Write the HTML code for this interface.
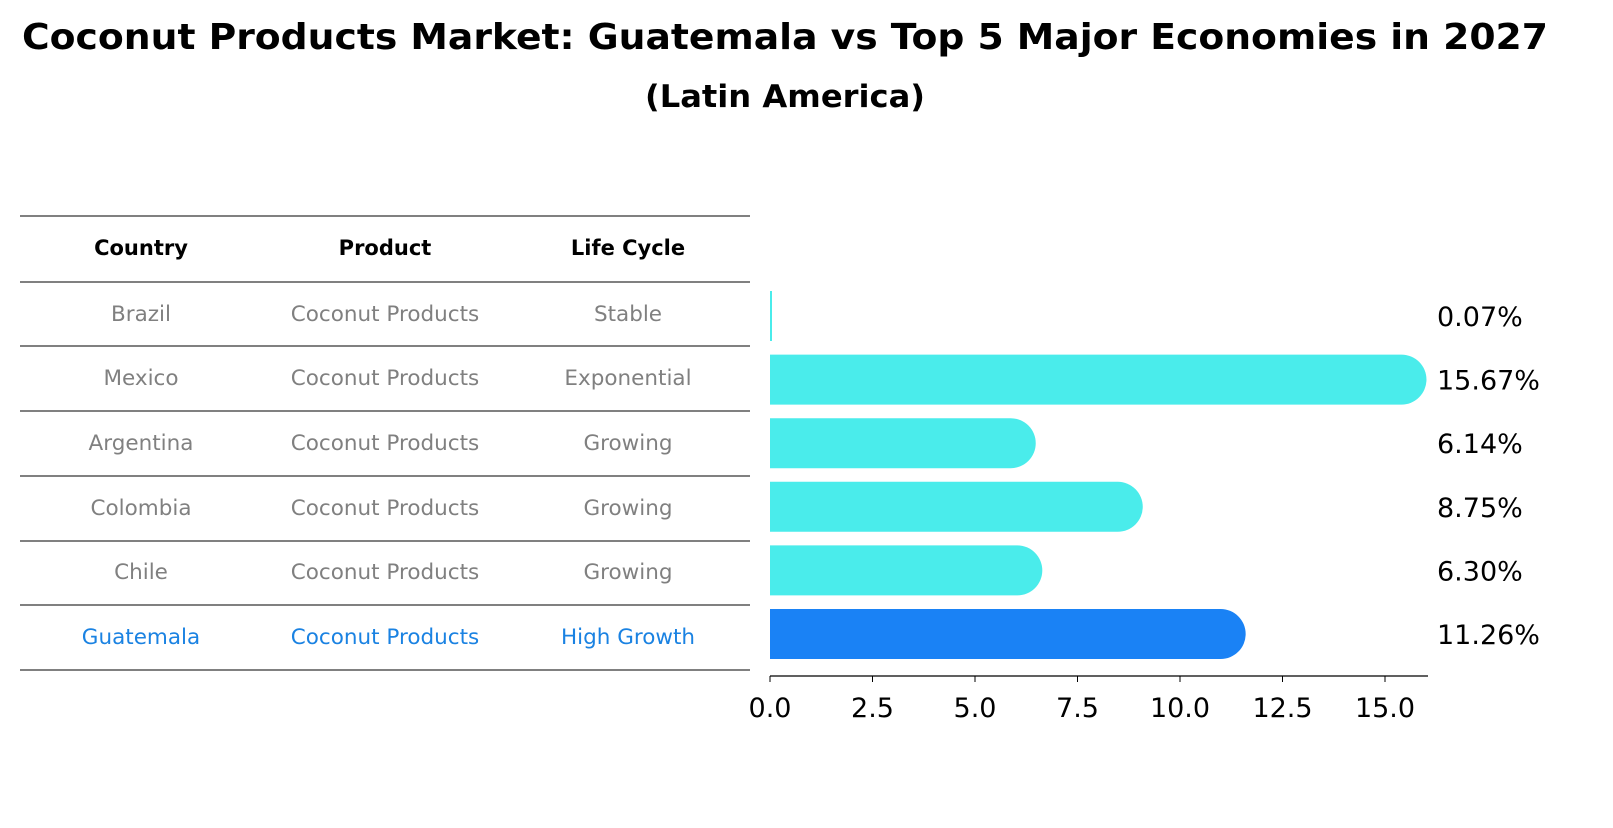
<!DOCTYPE html>
<html><head><meta charset="utf-8">
<style>
body{margin:0;width:1613px;height:823px;background:#fff;font-family:"Liberation Sans","DejaVu Sans",sans-serif;overflow:hidden}
svg text{font-family:"DejaVu Sans","Liberation Sans",sans-serif}
</style></head>
<body>
<svg width="1613" height="823" viewBox="0 0 1613 823">
<text x="785" y="49" text-anchor="middle" font-size="36" font-weight="bold" textLength="1526" lengthAdjust="spacingAndGlyphs">Coconut Products Market: Guatemala vs Top 5 Major Economies in 2027</text>
<text x="785" y="107" text-anchor="middle" font-size="31" font-weight="bold" textLength="280" lengthAdjust="spacingAndGlyphs">(Latin America)</text>
<g id="table"></g>
<g id="bars"></g>
<g id="axis"></g>
</svg>
<script>
const countries=["Brazil","Mexico","Argentina","Colombia","Chile","Guatemala"];
const products=["Coconut Products","Coconut Products","Coconut Products","Coconut Products","Coconut Products","Coconut Products"];
const cycles=["Stable","Exponential","Growing","Growing","Growing","High Growth"];
const values=[0.07,15.67,6.14,8.75,6.30,11.26];
const ticks=[0,2.5,5,7.5,10,12.5,15];
const NS="http://www.w3.org/2000/svg";
function mk(tag,attrs,parent,txt){const e=document.createElementNS(NS,tag);for(const k in attrs)e.setAttribute(k,attrs[k]);if(txt!==undefined)e.textContent=txt;parent.appendChild(e);return e;}
const x0=770,sx=41;
const X=v=>x0+v*sx;
const rowY=i=>316+i*63.6;
const tbl=document.getElementById('table');
const lines=[216,282,346,411,476,541,605,670];
lines.forEach((y,i)=>{const l=mk('line',{x1:20,x2:750,y1:y,y2:y,stroke:'#000','stroke-width':1},tbl);

});
const cols=[141,385,628];
["Country","Product","Life Cycle"].forEach((h,j)=>{const t=mk('text',{x:cols[j],y:255,'text-anchor':'middle','font-size':21,'font-weight':'bold'},tbl,h);

});
countries.forEach((c,i)=>{const cy=[314,378,443,508,572,637][i]+7;const col=i===5?'#1a82e2':'#808080';
[c,products[i],cycles[i]].forEach((v,j)=>{const t=mk('text',{x:cols[j],y:cy,'text-anchor':'middle','font-size':21.5,fill:col},tbl,v);

});});
const bars=document.getElementById('bars');
values.forEach((v,i)=>{const cy=rowY(i),h=50,col=i===5?'#1a82f5':'#4aeceb';
const w=Math.max(2,X(v)-x0+(v>1?14:0));const r=Math.min(25,w/2);
const p=mk('path',{d:`M${x0},${cy-h/2} H${x0+w-r} A${r},${h/2} 0 0 1 ${x0+w-r},${cy+h/2} H${x0} Z`,fill:col},bars);
if(v<1){p.setAttribute('d',`M${x0},${cy-h/2} h2 v${h} h-2 Z`);}


const t=mk('text',{x:1437,y:cy+10,'font-size':27},bars,v.toFixed(2)+'%');

});
const ax=document.getElementById('axis');
mk('line',{x1:x0,x2:1428,y1:676,y2:676,stroke:'#000','stroke-width':1.2},ax);
ticks.forEach(t=>{mk('line',{x1:X(t),x2:X(t),y1:676,y2:682,stroke:'#000'},ax);
const tx=mk('text',{x:X(t),y:717,'text-anchor':'middle','font-size':27},ax,t.toFixed(1));

});
</script>
</body></html>
